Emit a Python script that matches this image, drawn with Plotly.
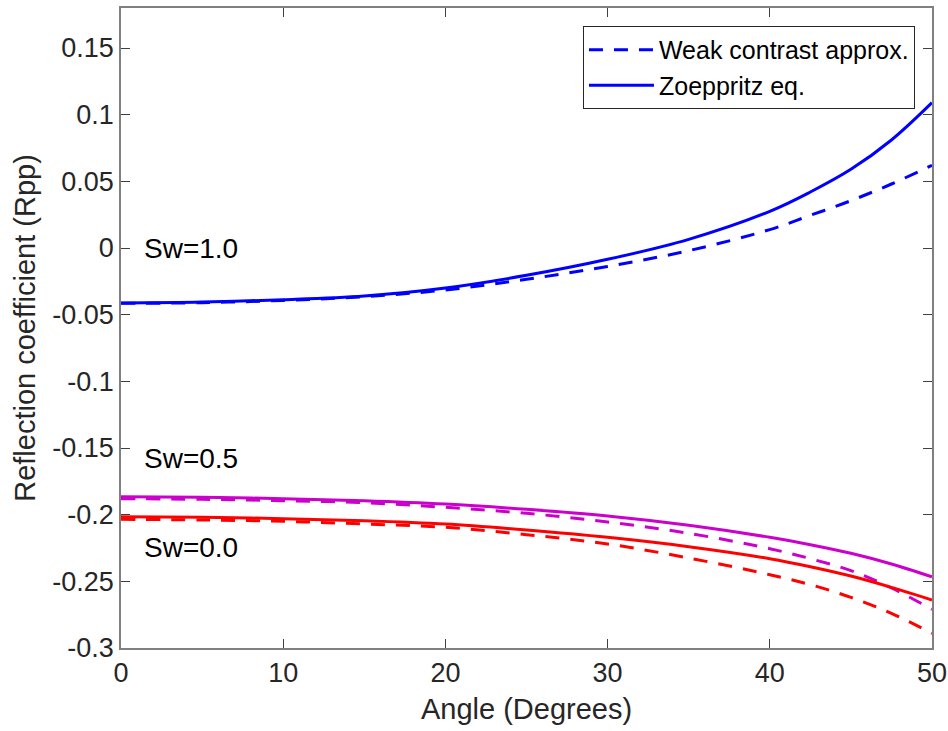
import plotly.graph_objects as go

angles = [0, 5, 10, 15, 20, 25, 30, 35, 40, 42.5, 45, 47.5, 50]

# Sw = 1.0 (blue)
sw10_weak = [-0.0415, -0.0410, -0.0393, -0.0365, -0.0315, -0.0235, -0.0138, -0.0020, 0.0138, 0.0245, 0.0355, 0.0480, 0.0620]
sw10_zoep = [-0.0412, -0.0405, -0.0388, -0.0360, -0.0300, -0.0205, -0.0085, 0.0065, 0.0275, 0.0420, 0.0590, 0.0810, 0.1090]
# Sw = 0.5 (magenta)
sw05_weak = [-0.1880, -0.1885, -0.1895, -0.1910, -0.1945, -0.1990, -0.2055, -0.2140, -0.2255, -0.2330, -0.2420, -0.2550, -0.2710]
sw05_zoep = [-0.1866, -0.1870, -0.1880, -0.1895, -0.1920, -0.1960, -0.2010, -0.2080, -0.2170, -0.2225, -0.2290, -0.2370, -0.2466]
# Sw = 0.0 (red)
sw00_weak = [-0.2035, -0.2040, -0.2050, -0.2070, -0.2095, -0.2150, -0.2220, -0.2325, -0.2450, -0.2525, -0.2620, -0.2740, -0.2890]
sw00_zoep = [-0.2015, -0.2020, -0.2030, -0.2045, -0.2070, -0.2115, -0.2170, -0.2240, -0.2330, -0.2390, -0.2460, -0.2545, -0.2640]

legend_names = ["Weak contrast approx.", "Zoeppritz eq."]
labels = ["Sw=1.0", "Sw=0.5", "Sw=0.0"]
label_y = [0.0, -0.158, -0.2245]

y_tickvals = [-0.3, -0.25, -0.2, -0.15, -0.1, -0.05, 0, 0.05, 0.1, 0.15]
y_ticktext = ["-0.3", "-0.25", "-0.2", "-0.15", "-0.1", "-0.05", "0", "0.05", "0.1", "0.15"]
x_tickvals = [0, 10, 20, 30, 40, 50]

BLUE = "#0000FF"
MAG = "#CC00CC"
RED = "#FF0000"
DASH = "14px,11px"
FONT = "Liberation Sans, Arial, Helvetica, sans-serif"

fig = go.Figure()

def add(y, color, dash, name=None, show=False):
    fig.add_trace(go.Scatter(
        x=angles, y=y, mode="lines",
        line=dict(color=color, width=3, dash=dash, shape="spline", smoothing=1.0),
        name=name, showlegend=show, hoverinfo="skip"))

add(sw00_weak, RED, DASH)
add(sw05_weak, MAG, DASH)
add(sw10_weak, BLUE, DASH, legend_names[0], True)
add(sw00_zoep, RED, "solid")
add(sw05_zoep, MAG, "solid")
add(sw10_zoep, BLUE, "solid", legend_names[1], True)

for t, yv in zip(labels, label_y):
    fig.add_annotation(x=1.3, y=yv, text=t, showarrow=False, xanchor="left",
                       yanchor="middle", font=dict(size=28, color="#000000", family=FONT))

axis_common = dict(
    showline=True, linecolor="#808080", linewidth=1.5, mirror="ticks",
    ticks="inside", ticklen=9, tickcolor="#404040", tickwidth=1,
    showgrid=False, zeroline=False, automargin=False,
    tickfont=dict(size=27, color="#262626", family=FONT),
)

fig.update_xaxes(range=[0, 50], tickvals=x_tickvals, ticktext=[str(v) for v in x_tickvals],
                 title=dict(text="Angle (Degrees)", font=dict(size=29, color="#262626", family=FONT), standoff=12),
                 **axis_common)
fig.update_yaxes(range=[-0.3, 0.18], tickvals=y_tickvals, ticktext=y_ticktext,
                 title=dict(text="Reflection coefficient (Rpp)", font=dict(size=29, color="#262626", family=FONT), standoff=8),
                 **axis_common)

fig.update_layout(
    width=948, height=731,
    margin=dict(l=121, r=16, t=8, b=83),
    paper_bgcolor="white", plot_bgcolor="white",
    font=dict(family=FONT),
    legend=dict(x=0.979, y=0.972, xanchor="right", yanchor="top",
                bgcolor="white", bordercolor="#262626", borderwidth=1,
                font=dict(size=25, color="#000000", family=FONT),
                itemwidth=65, tracegroupgap=0),
)

fig.write_html("out.html")
